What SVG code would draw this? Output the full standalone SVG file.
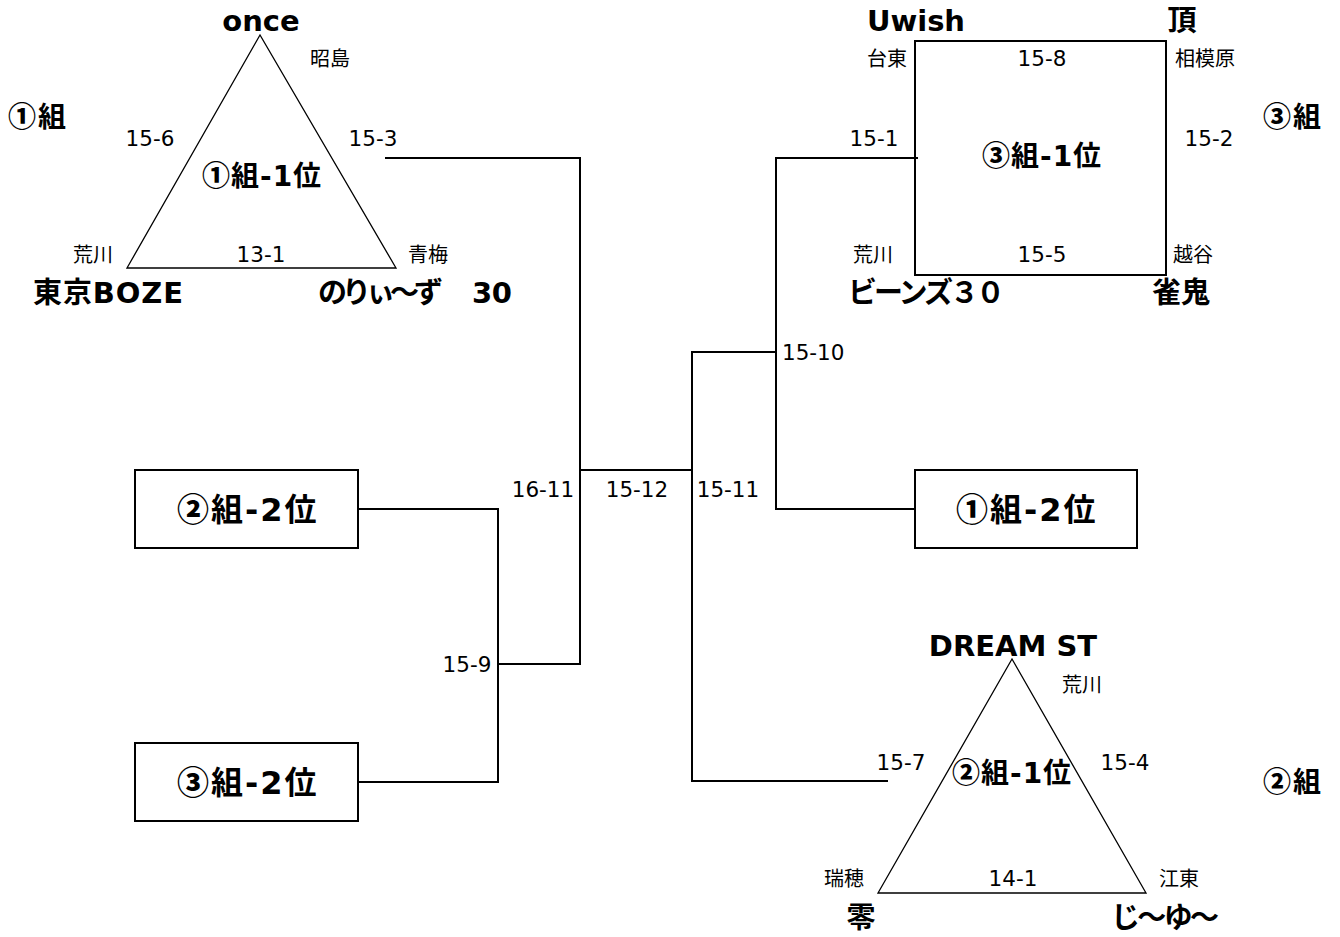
<svg xmlns="http://www.w3.org/2000/svg" width="1340" height="937" viewBox="0 0 1340 937">
<style>
.b{font-family:"DejaVu Sans","Noto Sans CJK JP",sans-serif;font-weight:bold;fill:#000}
.t{font-size:29px}
.c{font-size:28px;letter-spacing:1px}
.g{font-size:28px;letter-spacing:2px}
.bx{font-size:32px;letter-spacing:2px}
.n{font-family:"Noto Sans CJK JP",sans-serif;font-weight:900}
.s{font-family:"DejaVu Sans","Noto Sans CJK JP",sans-serif;font-size:21.5px;fill:#000}
.p{font-family:"Noto Sans CJK JP",sans-serif;font-size:20px;fill:#000}
.m{text-anchor:middle}
.shape{fill:none;stroke:#000}
.line{fill:none;stroke:#000;stroke-width:2}
</style>
<rect width="1340" height="937" fill="#fff"/>
<g id="connectors">
<polyline class="line" points="385,158 580,158 580,664 498,664"/>
<polyline class="line" points="358,509 498,509 498,782 358,782"/>
<polyline class="line" points="580,470 692,470"/>
<polyline class="line" points="888,781 692,781 692,352 776,352"/>
<polyline class="line" points="918,158 776,158 776,509 915,509"/>
</g>
<g id="group1">
<polygon class="shape" stroke-width="1.3" points="260,35 127,268 396,268"/>
<text class="b t m" x="261" y="31">once</text>
<text class="p" x="310" y="66">昭島</text>
<text class="b g" x="8" y="127"><tspan class="n">①</tspan>組</text>
<text class="s m" x="150" y="146">15-6</text>
<text class="s m" x="373" y="146">15-3</text>
<text class="b c" x="202" y="186"><tspan class="n">①</tspan>組-1位</text>
<text class="p" x="73" y="262">荒川</text>
<text class="s m" x="261" y="262">13-1</text>
<text class="p" x="408" y="262">青梅</text>
<text class="b t" x="33" y="303" textLength="150">東京BOZE</text>
<text class="b t" x="318" y="303" textLength="125">のりぃ～ず</text>
<text class="b t" x="472" y="303" textLength="40">30</text>
</g>
<g id="group3">
<rect class="shape" stroke-width="2" x="915" y="41" width="251" height="234"/>
<text class="b t" x="867" y="31" textLength="98">Uwish</text>
<text class="b t m" x="1182" y="31">頂</text>
<text class="p" x="867" y="66">台東</text>
<text class="s m" x="1042" y="66">15-8</text>
<text class="p" x="1175" y="66">相模原</text>
<text class="b g" x="1263" y="127"><tspan class="n">③</tspan>組</text>
<text class="s m" x="874" y="146">15-1</text>
<text class="s m" x="1209" y="146">15-2</text>
<text class="b c" x="982" y="166"><tspan class="n">③</tspan>組-1位</text>
<text class="p" x="853" y="262">荒川</text>
<text class="s m" x="1042" y="262">15-5</text>
<text class="p" x="1173" y="262">越谷</text>
<text class="b t" x="848" y="303" textLength="157">ビーンズ３０</text>
<text class="b t m" x="1181" y="303">雀鬼</text>
</g>
<g id="scores">
<text class="s" x="782" y="360">15-10</text>
<text class="s m" x="543" y="497">16-11</text>
<text class="s m" x="637" y="497">15-12</text>
<text class="s m" x="728" y="497">15-11</text>
<text class="s m" x="467" y="672">15-9</text>
</g>
<g id="box-g2-2">
<rect class="shape" stroke-width="2" x="135" y="470" width="223" height="78"/>
<text class="b bx" x="177" y="521"><tspan class="n">②</tspan>組-2位</text>
</g>
<g id="box-g3-2">
<rect class="shape" stroke-width="2" x="135" y="743" width="223" height="78"/>
<text class="b bx" x="177" y="794"><tspan class="n">③</tspan>組-2位</text>
</g>
<g id="box-g1-2">
<rect class="shape" stroke-width="2" x="915" y="470" width="222" height="78"/>
<text class="b bx" x="956" y="521"><tspan class="n">①</tspan>組-2位</text>
</g>
<g id="group2">
<polygon class="shape" stroke-width="1.3" points="1012,659 878,893 1146,893"/>
<text class="b t m" x="1013" y="656">DREAM ST</text>
<text class="p" x="1062" y="692">荒川</text>
<text class="s m" x="901" y="770">15-7</text>
<text class="s m" x="1125" y="770">15-4</text>
<text class="b g" x="1263" y="792"><tspan class="n">②</tspan>組</text>
<text class="b c" x="952" y="783"><tspan class="n">②</tspan>組-1位</text>
<text class="p" x="824" y="886">瑞穂</text>
<text class="s m" x="1013" y="886">14-1</text>
<text class="p" x="1159" y="886">江東</text>
<text class="b t m" x="861" y="928">零</text>
<text class="b t" x="1111" y="928" textLength="108">じ～ゆ～</text>
</g>
</svg>
